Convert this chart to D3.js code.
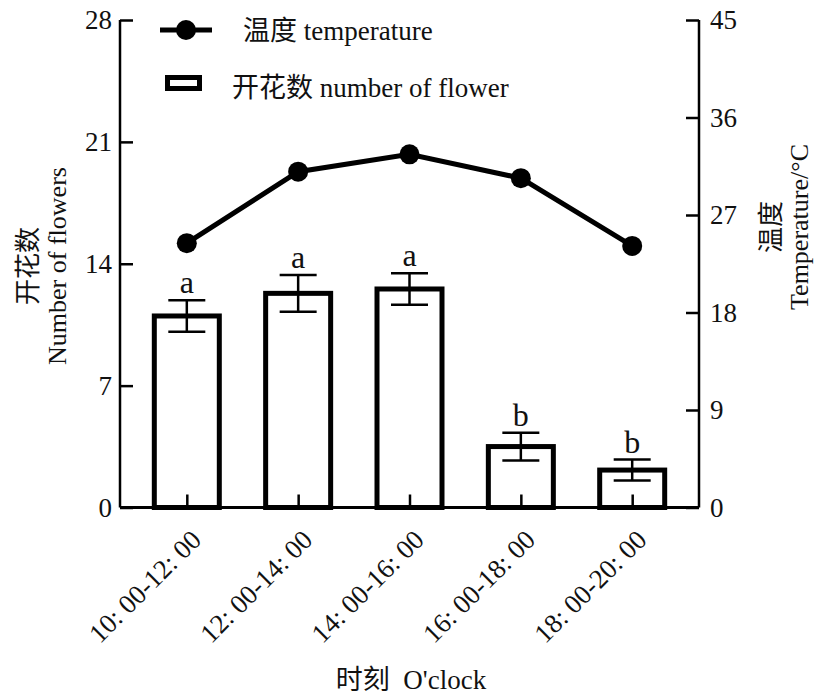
<!DOCTYPE html>
<html>
<head>
<meta charset="utf-8">
<script src="https://cdn.jsdelivr.net/npm/d3@7"></script>
<style>
	body { margin: 0; background: #fff; }
	svg text { font-family: "Liberation Serif", "Noto Sans CJK SC", serif; fill: #111; }
</style>
</head>
<body>
<div id="container"></div>
<script>
const periods = ["10: 00-12: 00", "12: 00-14: 00", "14: 00-16: 00", "16: 00-18: 00", "18: 00-20: 00"];
const flowers = [11.0, 12.3, 12.55, 3.5, 2.15];
const flowerErr = [0.9, 1.05, 0.9, 0.8, 0.6];
const letters = ["a", "a", "a", "b", "b"];
const temperature = [24.4, 31.0, 32.6, 30.4, 24.15];
const leftTicks = [0, 7, 14, 21, 28];
const rightTicks = [0, 9, 18, 27, 36, 45];

const dimensions = {
	width: 816,
	height: 698,
	margin: { left: 120, right: 117, top: 20, bottom: 190.5 }
}
const plotW = dimensions.width - dimensions.margin.left - dimensions.margin.right;
const plotH = dimensions.height - dimensions.margin.top - dimensions.margin.bottom;
const serif = "'Liberation Serif', 'Noto Sans CJK SC', serif";

const svg = d3.select("#container")
	.append("svg")
	.attr("width", dimensions.width)
	.attr("height", dimensions.height)

const g = svg.append("g")
	.attr("transform", `translate(${dimensions.margin.left}, ${dimensions.margin.top})`)

// scales
const x = d3.scalePoint().domain(periods).range([0, plotW]).padding(0.6)
const yLeft = d3.scaleLinear().domain([0, 28]).range([plotH, 0])
const yRight = d3.scaleLinear().domain([0, 45]).range([plotH, 0])

const barW = 65;

// bars
g.selectAll("rect.bar")
	.data(flowers)
	.enter()
	.append("rect")
	.attr("class", "bar")
	.attr("x", (d, i) => x(periods[i]) - barW / 2)
	.attr("y", d => yLeft(d))
	.attr("width", barW)
	.attr("height", d => plotH - yLeft(d))
	.attr("fill", "#fff")
	.attr("stroke", "#000")
	.attr("stroke-width", 5)

// error bars
const capW = 37;
const err = g.selectAll("g.err")
	.data(flowers)
	.enter()
	.append("g")
	.attr("class", "err")
	.attr("stroke", "#000")
	.attr("stroke-width", 2.5)
err.append("line")
	.attr("x1", (d, i) => x(periods[i]))
	.attr("x2", (d, i) => x(periods[i]))
	.attr("y1", (d, i) => yLeft(d + flowerErr[i]))
	.attr("y2", (d, i) => yLeft(d - flowerErr[i]))
err.append("line")
	.attr("x1", (d, i) => x(periods[i]) - capW / 2)
	.attr("x2", (d, i) => x(periods[i]) + capW / 2)
	.attr("y1", (d, i) => yLeft(d + flowerErr[i]))
	.attr("y2", (d, i) => yLeft(d + flowerErr[i]))
err.append("line")
	.attr("x1", (d, i) => x(periods[i]) - capW / 2)
	.attr("x2", (d, i) => x(periods[i]) + capW / 2)
	.attr("y1", (d, i) => yLeft(d - flowerErr[i]))
	.attr("y2", (d, i) => yLeft(d - flowerErr[i]))

// significance letters
g.selectAll("text.sig")
	.data(letters)
	.enter()
	.append("text")
	.attr("class", "sig")
	.attr("x", (d, i) => x(periods[i]))
	.attr("y", (d, i) => yLeft(flowers[i] + flowerErr[i]) - 7)
	.attr("text-anchor", "middle")
	.attr("font-size", 32)
	.text(d => d)

// temperature line
const line = d3.line()
	.x((d, i) => x(periods[i]))
	.y(d => yRight(d))

g.append("path")
	.datum(temperature)
	.attr("d", line)
	.attr("fill", "none")
	.attr("stroke", "#000")
	.attr("stroke-width", 5)

g.selectAll("circle.temp")
	.data(temperature)
	.enter()
	.append("circle")
	.attr("class", "temp")
	.attr("cx", (d, i) => x(periods[i]))
	.attr("cy", d => yRight(d))
	.attr("r", 10)
	.attr("fill", "#000")

// axes
const leftAxis = g.append("g")
	.call(d3.axisLeft(yLeft).tickValues(leftTicks).tickSize(-13).tickPadding(8))
const rightAxis = g.append("g")
	.attr("transform", `translate(${plotW}, 0)`)
	.call(d3.axisRight(yRight).tickValues(rightTicks).tickSize(-13).tickPadding(11))
const bottomAxis = g.append("g")
	.attr("transform", `translate(0, ${plotH})`)
	.call(d3.axisBottom(x).tickSize(-13).tickFormat(""))

for (const ax of [leftAxis, rightAxis, bottomAxis]) {
	ax.attr("font-family", serif)
	ax.select(".domain").attr("stroke", "#000").attr("stroke-width", 2.5)
	ax.selectAll(".tick line").attr("stroke", "#000").attr("stroke-width", 2.5)
	ax.selectAll(".tick text")
		.attr("font-size", 27)
		.attr("fill", "#111")
}
leftAxis.select(".domain").attr("d", `M0,${plotH}V0`)
rightAxis.select(".domain").attr("d", `M0,${plotH}V0`)
bottomAxis.select(".domain").attr("d", `M0,0H${plotW}`).attr("stroke-width", 3)

// rotated category labels
g.selectAll("text.cat")
	.data(periods)
	.enter()
	.append("text")
	.attr("class", "cat")
	.attr("transform", d => `translate(${x(d) + 16}, ${plotH + 34}) rotate(-45)`)
	.attr("text-anchor", "end")
	.attr("font-family", serif)
	.attr("font-size", 27)
	.text(d => d)

// axis titles
svg.append("text")
	.attr("x", 411)
	.attr("y", 689)
	.attr("text-anchor", "middle")
	.attr("font-size", 27)
	.attr("fill", "#222")
	.text("时刻\u00a0\u00a0O'clock")

const leftTitle = svg.append("text")
	.attr("transform", `translate(0, 266) rotate(-90)`)
	.attr("text-anchor", "middle")
	.attr("font-size", 26)
	.attr("fill", "#222")
leftTitle.append("tspan").attr("x", 0).attr("y", 37).text("开花数")
leftTitle.append("tspan").attr("x", 0).attr("y", 66).text("Number of flowers")

const rightTitle = svg.append("text")
	.attr("transform", `translate(0, 227) rotate(-90)`)
	.attr("text-anchor", "middle")
	.attr("font-size", 26)
	.attr("fill", "#222")
rightTitle.append("tspan").attr("x", 0).attr("y", 780).text("温度")
rightTitle.append("tspan").attr("x", 0).attr("y", 808).text("Temperature/°C")

// legend
const legend = svg.append("g")
legend.append("line")
	.attr("x1", 160).attr("x2", 212)
	.attr("y1", 30).attr("y2", 30)
	.attr("stroke", "#000").attr("stroke-width", 5)
legend.append("circle")
	.attr("cx", 186).attr("cy", 30).attr("r", 10)
	.attr("fill", "#000")
legend.append("text")
	.attr("x", 243).attr("y", 40)
	.attr("font-size", 27)
	.text("温度 temperature")
legend.append("rect")
	.attr("x", 167.5).attr("y", 77.5)
	.attr("width", 32).attr("height", 11)
	.attr("fill", "#fff").attr("stroke", "#000").attr("stroke-width", 5)
legend.append("text")
	.attr("x", 232).attr("y", 97)
	.attr("font-size", 27)
	.text("开花数 number of flower")
</script>
</body>
</html>
